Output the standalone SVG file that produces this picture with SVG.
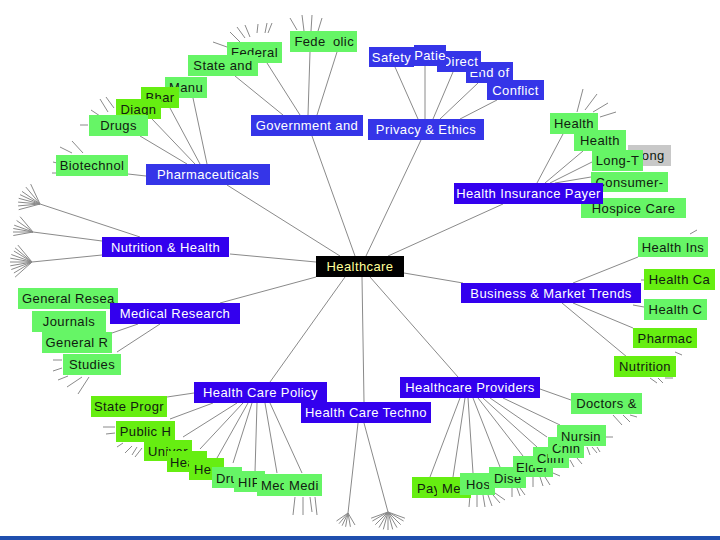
<svg xmlns="http://www.w3.org/2000/svg" width="720" height="540" viewBox="0 0 720 540">
<style>
text{font-family:"Liberation Sans",Arial,sans-serif;font-size:13px;letter-spacing:0.4px}
.c{text-anchor:middle}
.b1{fill:#3535e8}
.b2{fill:#3300ee}
.g1{fill:#66f566}
.g2{fill:#66ee11}
.gy{fill:#c8c8c8}
.tw{fill:#ffffff}
.tk{fill:#102010}
#edges line{stroke:#8a8a8a;stroke-width:1}
</style>
<rect width="720" height="540" fill="#ffffff"/>
<g id="edges">
<line x1="355" y1="256" x2="312" y2="136"/>
<line x1="366" y1="256" x2="421" y2="140"/>
<line x1="340" y1="256" x2="227" y2="185"/>
<line x1="388" y1="256" x2="503" y2="204"/>
<line x1="316" y1="262" x2="230" y2="254"/>
<line x1="316" y1="277" x2="220" y2="303"/>
<line x1="404" y1="273" x2="463" y2="283"/>
<line x1="345" y1="277" x2="270" y2="382"/>
<line x1="362" y1="277" x2="364" y2="402"/>
<line x1="370" y1="277" x2="458" y2="377"/>
<line x1="300" y1="115" x2="267" y2="63"/>
<line x1="283" y1="115" x2="235" y2="76"/>
<line x1="308" y1="115" x2="310" y2="52"/>
<line x1="317" y1="115" x2="337" y2="52"/>
<line x1="418" y1="119" x2="395" y2="67"/>
<line x1="425" y1="119" x2="425" y2="66"/>
<line x1="433" y1="119" x2="453" y2="72"/>
<line x1="440" y1="119" x2="478" y2="83"/>
<line x1="460" y1="119" x2="497" y2="100"/>
<line x1="207" y1="164" x2="193" y2="98"/>
<line x1="200" y1="164" x2="170" y2="108"/>
<line x1="195" y1="164" x2="152" y2="119"/>
<line x1="187" y1="164" x2="140" y2="136"/>
<line x1="146" y1="176" x2="128" y2="174"/>
<line x1="140" y1="237" x2="40" y2="204"/>
<line x1="102" y1="241" x2="33" y2="232"/>
<line x1="102" y1="255" x2="32" y2="262"/>
<line x1="138" y1="324" x2="112" y2="333"/>
<line x1="160" y1="324" x2="117" y2="352"/>
<line x1="167" y1="397" x2="194" y2="393"/>
<line x1="170" y1="419" x2="213" y2="403"/>
<line x1="183" y1="437" x2="237" y2="403"/>
<line x1="200" y1="449" x2="243" y2="403"/>
<line x1="217" y1="458" x2="248" y2="403"/>
<line x1="233" y1="463" x2="252" y2="403"/>
<line x1="255" y1="472" x2="257" y2="403"/>
<line x1="277" y1="473" x2="265" y2="403"/>
<line x1="302" y1="473" x2="270" y2="403"/>
<line x1="364" y1="423" x2="388" y2="512"/>
<line x1="358" y1="423" x2="348" y2="513"/>
<line x1="430" y1="477" x2="460" y2="398"/>
<line x1="453" y1="477" x2="465" y2="398"/>
<line x1="473" y1="473" x2="468" y2="398"/>
<line x1="500" y1="467" x2="473" y2="398"/>
<line x1="523" y1="456" x2="478" y2="398"/>
<line x1="537" y1="447" x2="483" y2="398"/>
<line x1="547" y1="437" x2="490" y2="398"/>
<line x1="560" y1="425" x2="503" y2="398"/>
<line x1="571" y1="400" x2="540" y2="389"/>
<line x1="573" y1="283" x2="638" y2="257"/>
<line x1="641" y1="280" x2="644" y2="280"/>
<line x1="633" y1="305" x2="644" y2="307"/>
<line x1="573" y1="303" x2="633" y2="328"/>
<line x1="562" y1="303" x2="627" y2="357"/>
<line x1="537" y1="183" x2="563" y2="134"/>
<line x1="545" y1="183" x2="583" y2="151"/>
<line x1="550" y1="183" x2="592" y2="162"/>
<line x1="555" y1="183" x2="591" y2="177"/>
<line x1="40" y1="204" x2="18.7" y2="209.7"/>
<line x1="40" y1="204" x2="18.1" y2="205.9"/>
<line x1="40" y1="204" x2="18.1" y2="202.1"/>
<line x1="40" y1="204" x2="18.7" y2="198.3"/>
<line x1="40" y1="204" x2="20.1" y2="194.7"/>
<line x1="40" y1="204" x2="22" y2="191.4"/>
<line x1="40" y1="204" x2="25.9" y2="187.1"/>
<line x1="40" y1="204" x2="30.7" y2="184.1"/>
<line x1="33" y1="232" x2="13.3" y2="235.5"/>
<line x1="33" y1="232" x2="13" y2="232"/>
<line x1="33" y1="232" x2="13.3" y2="228.5"/>
<line x1="33" y1="232" x2="14.2" y2="225.2"/>
<line x1="33" y1="232" x2="16.6" y2="220.5"/>
<line x1="33" y1="232" x2="20.1" y2="216.7"/>
<line x1="32" y1="262" x2="15.1" y2="277.1"/>
<line x1="32" y1="262" x2="13.9" y2="273"/>
<line x1="32" y1="262" x2="11.3" y2="269.5"/>
<line x1="32" y1="262" x2="10.3" y2="265.8"/>
<line x1="32" y1="262" x2="10" y2="262"/>
<line x1="32" y1="262" x2="10.3" y2="258.2"/>
<line x1="32" y1="262" x2="11.3" y2="254.5"/>
<line x1="32" y1="262" x2="13.9" y2="251"/>
<line x1="32" y1="262" x2="15.1" y2="247.9"/>
<line x1="32" y1="262" x2="17.9" y2="245.1"/>
<line x1="388" y1="512" x2="404.9" y2="518.2"/>
<line x1="388" y1="512" x2="403.6" y2="521"/>
<line x1="388" y1="512" x2="400.7" y2="524.7"/>
<line x1="388" y1="512" x2="397" y2="527.6"/>
<line x1="388" y1="512" x2="392.7" y2="529.4"/>
<line x1="388" y1="512" x2="388" y2="530"/>
<line x1="388" y1="512" x2="383.3" y2="529.4"/>
<line x1="388" y1="512" x2="379" y2="527.6"/>
<line x1="388" y1="512" x2="375.3" y2="524.7"/>
<line x1="388" y1="512" x2="372.4" y2="521"/>
<line x1="388" y1="512" x2="371.1" y2="518.2"/>
<line x1="348" y1="513" x2="355" y2="525"/>
<line x1="348" y1="513" x2="350.4" y2="526.8"/>
<line x1="348" y1="513" x2="345.6" y2="526.8"/>
<line x1="348" y1="513" x2="342.1" y2="525.7"/>
<line x1="348" y1="513" x2="339" y2="523.7"/>
<line x1="348" y1="513" x2="336.5" y2="521"/>
<line x1="230" y1="32" x2="240" y2="42"/>
<line x1="237" y1="27" x2="245" y2="38"/>
<line x1="245" y1="25" x2="250" y2="37"/>
<line x1="258" y1="24" x2="257" y2="33"/>
<line x1="267" y1="23" x2="265" y2="33"/>
<line x1="272" y1="23" x2="268" y2="33"/>
<line x1="213" y1="42" x2="227" y2="47"/>
<line x1="290" y1="18" x2="297" y2="30"/>
<line x1="302" y1="15" x2="304" y2="31"/>
<line x1="312" y1="15" x2="311" y2="31"/>
<line x1="322" y1="18" x2="318" y2="31"/>
<line x1="80" y1="125" x2="88" y2="125"/>
<line x1="91" y1="110" x2="100" y2="116"/>
<line x1="100" y1="99" x2="108" y2="112"/>
<line x1="106" y1="97" x2="114" y2="108"/>
<line x1="72" y1="141" x2="83" y2="153"/>
<line x1="60" y1="147" x2="72" y2="153"/>
<line x1="53" y1="162" x2="57" y2="163"/>
<line x1="52" y1="173" x2="56" y2="173"/>
<line x1="583" y1="89" x2="577" y2="112"/>
<line x1="597" y1="94" x2="585" y2="110"/>
<line x1="608" y1="103" x2="593" y2="112"/>
<line x1="616" y1="112" x2="600" y2="117"/>
<line x1="690" y1="234" x2="697" y2="230"/>
<line x1="675" y1="352" x2="682" y2="355"/>
<line x1="650" y1="378" x2="657" y2="383"/>
<line x1="658" y1="378" x2="663" y2="383"/>
<line x1="665" y1="378" x2="673" y2="378"/>
<line x1="613" y1="415" x2="622" y2="425"/>
<line x1="623" y1="415" x2="630" y2="422"/>
<line x1="630" y1="415" x2="637" y2="417"/>
<line x1="606" y1="437" x2="613" y2="437"/>
<line x1="587" y1="447" x2="590" y2="455"/>
<line x1="592" y1="447" x2="597" y2="453"/>
<line x1="597" y1="447" x2="600" y2="452"/>
<line x1="570" y1="460" x2="574" y2="467"/>
<line x1="577" y1="458" x2="582" y2="464"/>
<line x1="553" y1="473" x2="560" y2="476"/>
<line x1="533" y1="477" x2="533" y2="487"/>
<line x1="540" y1="477" x2="543" y2="486"/>
<line x1="545" y1="477" x2="550" y2="485"/>
<line x1="512" y1="488" x2="512" y2="497"/>
<line x1="517" y1="488" x2="520" y2="496"/>
<line x1="520" y1="488" x2="525" y2="495"/>
<line x1="470" y1="495" x2="469" y2="507"/>
<line x1="477" y1="495" x2="477" y2="507"/>
<line x1="483" y1="495" x2="485" y2="507"/>
<line x1="488" y1="495" x2="492" y2="506"/>
<line x1="493" y1="495" x2="500" y2="503"/>
<line x1="495" y1="493" x2="505" y2="500"/>
<line x1="295" y1="497" x2="293" y2="515"/>
<line x1="303" y1="497" x2="303" y2="515"/>
<line x1="310" y1="497" x2="312" y2="512"/>
<line x1="315" y1="497" x2="317" y2="515"/>
<line x1="117" y1="447" x2="123" y2="443"/>
<line x1="125" y1="453" x2="132" y2="446"/>
<line x1="132" y1="455" x2="137" y2="447"/>
<line x1="135" y1="457" x2="142" y2="448"/>
<line x1="103" y1="427" x2="115" y2="427"/>
<line x1="106" y1="434" x2="115" y2="433"/>
<line x1="53" y1="360" x2="62" y2="360"/>
<line x1="53" y1="371" x2="62" y2="368"/>
<line x1="58" y1="380" x2="68" y2="376"/>
<line x1="67" y1="387" x2="82" y2="377"/>
<line x1="78" y1="394" x2="89" y2="377"/>
</g>
<g id="n-federal"><rect class="g1" x="227" y="42" width="55" height="21"/><text class="tk c" x="254.5" y="57">Federal</text></g>
<g id="n-fede"><rect class="g1" x="290" y="31" width="40" height="21"/><text class="tk c" x="310" y="46">Fede</text></g>
<g id="n-olic"><rect class="g1" x="330" y="31" width="27" height="21"/><text class="tk c" x="343.5" y="46">olic</text></g>
<g id="n-stateand"><rect class="g1" x="188" y="55" width="70" height="21"/><text class="tk c" x="223" y="70">State and</text></g>
<g id="n-manu"><rect class="g1" x="165" y="77" width="42" height="21"/><text class="tk c" x="186" y="92">Manu</text></g>
<g id="n-bhar"><rect class="g2" x="141" y="87" width="38" height="21"/><text class="tk c" x="160" y="102">Bhar</text></g>
<g id="n-diagn"><rect class="g2" x="116" y="99" width="45" height="20"/><text class="tk c" x="138.5" y="114">Diagn</text></g>
<g id="n-drugs"><rect class="g1" x="89" y="115" width="59" height="21"/><text class="tk c" x="118.5" y="130">Drugs</text></g>
<g id="n-biotech"><rect class="g1" x="56" y="155" width="72" height="21"/><text class="tk c" x="92" y="170">Biotechnol</text></g>
<g id="n-health1"><rect class="g1" x="550" y="113" width="48" height="21"/><text class="tk c" x="574" y="128">Health</text></g>
<g id="n-health2"><rect class="g1" x="574" y="130" width="52" height="21"/><text class="tk c" x="600" y="145">Health</text></g>
<g id="n-long"><rect class="gy" x="628" y="145" width="43" height="21"/><text class="tk c" x="649.5" y="160">Long</text></g>
<g id="n-consumer"><rect class="g1" x="591" y="172" width="77" height="20"/><text class="tk c" x="629.5" y="187">Consumer-</text></g>
<g id="n-longt"><rect class="g1" x="592" y="150" width="51" height="21"/><text class="tk c" x="617.5" y="165">Long-T</text></g>
<g id="n-hospice"><rect class="g1" x="581" y="198" width="105" height="20"/><text class="tk c" x="633.5" y="213">Hospice Care</text></g>
<g id="n-healthins"><rect class="g1" x="638" y="237" width="70" height="20"/><text class="tk c" x="673" y="252">Health Ins</text></g>
<g id="n-healthca"><rect class="g2" x="644" y="269" width="71" height="21"/><text class="tk c" x="679.5" y="284">Health Ca</text></g>
<g id="n-healthc"><rect class="g1" x="644" y="299" width="63" height="21"/><text class="tk c" x="675.5" y="314">Health C</text></g>
<g id="n-pharmac"><rect class="g2" x="633" y="328" width="64" height="20"/><text class="tk c" x="665" y="343">Pharmac</text></g>
<g id="n-nutrition"><rect class="g2" x="614" y="356" width="62" height="21"/><text class="tk c" x="645" y="371">Nutrition</text></g>
<g id="n-doctors"><rect class="g1" x="571" y="393" width="71" height="21"/><text class="tk c" x="606.5" y="408">Doctors &amp;</text></g>
<g id="n-pay"><rect class="g2" x="412" y="477" width="33" height="21"/><text class="tk" x="417" y="493">Pay</text></g>
<g id="n-me"><rect class="g2" x="437" y="477" width="34" height="21"/><text class="tk" x="442" y="493">Me</text></g>
<g id="n-hos"><rect class="g1" x="460" y="473" width="35" height="22"/><text class="tk" x="466" y="489">Hos</text></g>
<g id="n-dise"><rect class="g1" x="489" y="467" width="37" height="21"/><text class="tk" x="494" y="483">Dise</text></g>
<g id="n-elder"><rect class="g1" x="513" y="456" width="40" height="21"/><text class="tk" x="516" y="472">Elder</text></g>
<g id="n-clini"><rect class="g1" x="533" y="447" width="36" height="21"/><text class="tk" x="537" y="463">Clini</text></g>
<g id="n-chin"><rect class="g1" x="548" y="437" width="36" height="21"/><text class="tk" x="552" y="453">Chin</text></g>
<g id="n-nursin"><rect class="g1" x="557" y="425" width="49" height="21"/><text class="tk" x="561" y="441">Nursin</text></g>
<g id="n-genresea"><rect class="g1" x="18" y="288" width="100" height="21"/><text class="tk" x="22" y="303">General Resea</text></g>
<g id="n-journals"><rect class="g1" x="32" y="311" width="74" height="21"/><text class="tk c" x="69" y="326">Journals</text></g>
<g id="n-genr"><rect class="g1" x="42" y="332" width="70" height="21"/><text class="tk c" x="77" y="347">General R</text></g>
<g id="n-studies"><rect class="g1" x="63" y="354" width="58" height="21"/><text class="tk c" x="92" y="369">Studies</text></g>
<g id="n-stateprogr"><rect class="g2" x="91" y="396" width="76" height="21"/><text class="tk c" x="129" y="411">State Progr</text></g>
<g id="n-publich"><rect class="g2" x="116" y="421" width="59" height="21"/><text class="tk c" x="145.5" y="436">Public H</text></g>
<g id="n-univer"><rect class="g2" x="144" y="440" width="48" height="21"/><text class="tk" x="148" y="456">Univer</text></g>
<g id="n-hea"><rect class="g2" x="167" y="451" width="40" height="21"/><text class="tk" x="170" y="467">Hea</text></g>
<g id="n-he"><rect class="g2" x="189" y="458" width="35" height="22"/><text class="tk" x="194" y="474">He</text></g>
<g id="n-dru"><rect class="g1" x="212" y="467" width="30" height="21"/><text class="tk" x="216" y="483">Dru</text></g>
<g id="n-hipn"><rect class="g1" x="234" y="471" width="31" height="21"/><text class="tk" x="238" y="487">HIP</text></g>
<g id="n-medn"><rect class="g1" x="257" y="474" width="28" height="22"/><text class="tk" x="261" y="490">Med</text></g>
<g id="n-medi"><rect class="g1" x="284" y="474" width="38" height="22"/><text class="tk" x="289" y="490">Medi</text></g>
<g id="n-conflict"><rect class="b1" x="487" y="80" width="57" height="20"/><text class="tw c" x="515.5" y="95">Conflict</text></g>
<g id="n-endof"><rect class="b1" x="466" y="62" width="47" height="21"/><text class="tw c" x="489.5" y="77">End of</text></g>
<g id="n-direct"><rect class="b1" x="437" y="51" width="44" height="21"/><text class="tw c" x="460" y="66">Direct</text></g>
<g id="n-patie"><rect class="b1" x="414" y="45" width="32" height="21"/><text class="tw c" x="430" y="60">Patie</text></g>
<g id="n-safety"><rect class="b1" x="369" y="47" width="45" height="20"/><text class="tw c" x="391.5" y="62">Safety</text></g>
<g id="n-gov"><rect class="b1" x="251" y="115" width="112" height="21"/><text class="tw c" x="307" y="130">Government and</text></g>
<g id="n-privacy"><rect class="b1" x="368" y="119" width="116" height="21"/><text class="tw c" x="426" y="134">Privacy &amp; Ethics</text></g>
<g id="n-pharma"><rect class="b1" x="146" y="164" width="124" height="21"/><text class="tw c" x="208" y="179">Pharmaceuticals</text></g>
<g id="n-hip"><rect class="b2" x="454" y="183" width="149" height="21"/><text class="tw c" x="528.5" y="198">Health Insurance Payer</text></g>
<g id="n-nutr"><rect class="b2" x="102" y="237" width="127" height="20"/><text class="tw c" x="165.5" y="252">Nutrition &amp; Health</text></g>
<g id="n-bmt"><rect class="b2" x="461" y="283" width="180" height="20"/><text class="tw c" x="551" y="298">Business &amp; Market Trends</text></g>
<g id="n-medres"><rect class="b2" x="110" y="303" width="130" height="21"/><text class="tw c" x="175" y="318">Medical Research</text></g>
<g id="n-hcp"><rect class="b2" x="194" y="382" width="133" height="21"/><text class="tw c" x="260.5" y="397">Health Care Policy</text></g>
<g id="n-hct"><rect class="b2" x="301" y="402" width="130" height="21"/><text class="tw c" x="366" y="417">Health Care Techno</text></g>
<g id="n-hpr"><rect class="b2" x="400" y="377" width="140" height="21"/><text class="tw c" x="470" y="392">Healthcare Providers</text></g>
<g id="n-healthcare"><rect x="316" y="256" width="88" height="21" fill="#000000"/><text class="c" x="360" y="271" fill="#ffff99">Healthcare</text></g>
<rect x="0" y="536" width="720" height="4" fill="#1f4fae"/>
</svg>
